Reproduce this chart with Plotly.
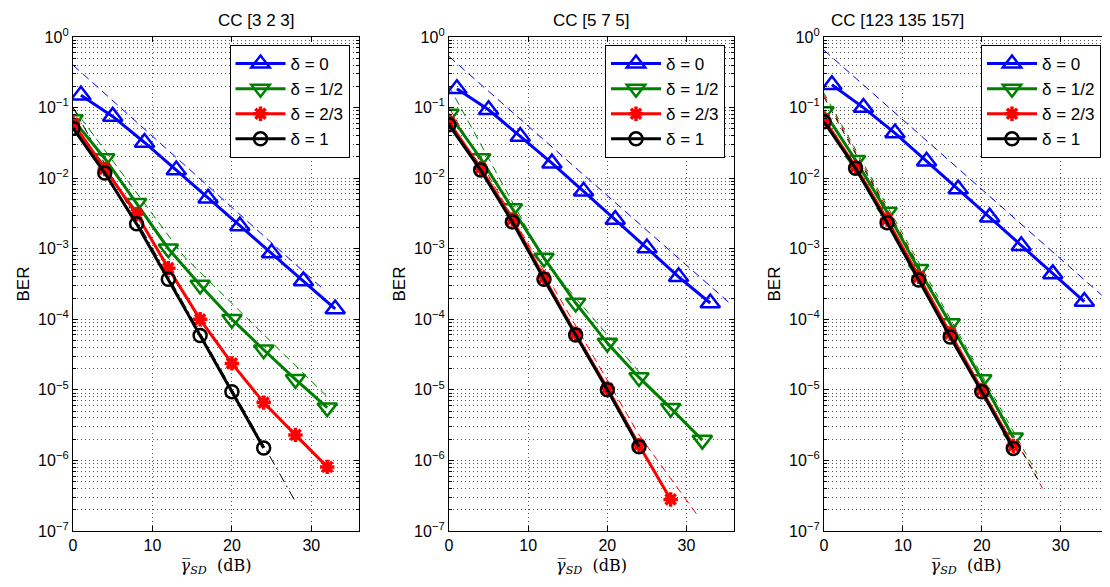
import plotly.graph_objects as go

# ---------------- data ----------------
titles = ["CC [3 2 3]", "CC [5 7 5]", "CC [123 135 157]"]
series_names = ["δ = 0", "δ = 1/2", "δ = 2/3", "δ = 1"]

x_d0 = [1, 5, 9, 13, 17, 21, 25, 29, 33]
x_to32 = [0, 4, 8, 12, 16, 20, 24, 28, 32]
x_to28 = [0, 4, 8, 12, 16, 20, 24, 28]
x_to24 = [0, 4, 8, 12, 16, 20, 24]

# Panel 1: CC [3 2 3]
p1_d0 = [0.15, 0.075, 0.032, 0.013, 0.0052, 0.0021, 8.7e-4, 3.5e-4, 1.4e-4]
p1_d12 = [0.068, 0.019, 0.0044, 1.0e-3, 3.07e-4, 1.0e-4, 3.7e-5, 1.41e-5, 5.6e-6]
p1_d23 = [0.06, 0.0135, 0.0031, 5.3e-4, 1.0e-4, 2.37e-5, 6.6e-6, 2.3e-6, 8.1e-7]
p1_d1 = [0.051, 0.0118, 2.25e-3, 3.7e-4, 5.9e-5, 9.4e-6, 1.5e-6]

# Panel 2: CC [5 7 5]
p2_d0 = [0.185, 0.093, 0.039, 0.0163, 0.0065, 0.0026, 1.02e-3, 4.0e-4, 1.7e-4]
p2_d12 = [0.081, 0.019, 0.0037, 7.4e-4, 1.7e-4, 4.6e-5, 1.5e-5, 5.5e-6, 1.94e-6]
p2_d23 = [0.062, 0.0138, 0.0026, 3.9e-4, 6.2e-5, 1.05e-5, 1.65e-6, 2.8e-7]
p2_d1 = [0.057, 0.013, 2.4e-3, 3.7e-4, 6.0e-5, 1.0e-5, 1.56e-6]

# Panel 3: CC [123 135 157]
p3_d0 = [0.21, 0.1, 0.0435, 0.0173, 0.007, 0.0028, 1.1e-3, 4.4e-4, 1.78e-4]
p3_d12 = [0.088, 0.018, 0.0033, 5.1e-4, 8.7e-5, 1.4e-5, 2.1e-6]
p3_d23 = [0.068, 0.0145, 0.0026, 4.0e-4, 6.3e-5, 1.0e-5, 1.6e-6]
p3_d1 = [0.063, 0.0138, 2.34e-3, 3.6e-4, 5.6e-5, 9.4e-6, 1.48e-6]

# Asymptotic bounds (dashed), read as sparse points
p1_b0_x, p1_b0_y = [0, 31.3], [0.4, 2.8e-4]
p1_b12_x, p1_b12_y = [0, 14, 32], [0.1, 7.7e-4, 8e-6]
p1_b1_x, p1_b1_y = [0, 28], [0.1, 2.6e-7]

p2_b0_x, p2_b0_y = [0, 35.3], [0.53, 1.75e-4]
p2_b12_x, p2_b12_y = [0, 12, 16, 24], [0.2, 7e-4, 2e-4, 1.8e-5]
p2_b23_x, p2_b23_y = [0, 24, 31.5], [0.1, 2.3e-6, 1.6e-7]

p3_b0_x, p3_b0_y = [0, 35.2], [0.65, 2.2e-4]
p3_b12_x, p3_b12_y = [0, 27], [0.16, 6.5e-7]
p3_b23_x, p3_b23_y = [0, 28], [0.15, 3.5e-7]
p3_b1_x, p3_b1_y = [0, 27.5], [0.14, 4.5e-7]

y_tickvals = [1, 1e-1, 1e-2, 1e-3, 1e-4, 1e-5, 1e-6, 1e-7]
y_ticktext = ["10<sup>0</sup>", "10<sup>−1</sup>", "10<sup>−2</sup>", "10<sup>−3</sup>",
              "10<sup>−4</sup>", "10<sup>−5</sup>", "10<sup>−6</sup>", "10<sup>−7</sup>"]
x_tickvals = [0, 10, 20, 30]

# ---------------- styling ----------------
BLUE, GREEN, RED, BLACK = "#0000ff", "#008000", "#ff0000", "#000000"
FONT = "Liberation Sans, Arial, Helvetica, sans-serif"

# page has an 8px body margin: figure drawn from (8, 8)
OFF = 8
W, H = 1102, 579
ML, MR, MT, MB = 73 - OFF, 2, 37 - OFF, 56
PW = W - ML - MR
PH = H - MT - MB
X0 = 73  # page x of first plot area left edge

def px(v):
    return (v - X0) / PW

domains = [[0.0, px(359)], [px(449), px(734)], [px(824), 1.0]]
legend_right = [px(349.5), px(725), px(1101)]
legend_top = 1 - (45 - 37) / PH

fig = go.Figure()

panels = [
    dict(solid=[(x_d0, p1_d0), (x_to32, p1_d12), (x_to32, p1_d23), (x_to24, p1_d1)],
         bounds=[(p1_b0_x, p1_b0_y, BLUE, "8px,5px"), (p1_b12_x, p1_b12_y, GREEN, "8px,5px"),
                 (p1_b1_x, p1_b1_y, BLACK, "10px,4px,2px,4px")]),
    dict(solid=[(x_d0, p2_d0), (x_to32, p2_d12), (x_to28, p2_d23), (x_to24, p2_d1)],
         bounds=[(p2_b0_x, p2_b0_y, BLUE, "8px,5px"), (p2_b12_x, p2_b12_y, GREEN, "8px,5px"),
                 (p2_b23_x, p2_b23_y, RED, "8px,5px")]),
    dict(solid=[(x_d0, p3_d0), (x_to24, p3_d12), (x_to24, p3_d23), (x_to24, p3_d1)],
         bounds=[(p3_b0_x, p3_b0_y, BLUE, "8px,5px"), (p3_b12_x, p3_b12_y, GREEN, "6px,6px"),
                 (p3_b23_x, p3_b23_y, RED, "6px,6px"), (p3_b1_x, p3_b1_y, BLACK, "6px,6px")]),
]

styles = [
    dict(color=BLUE, symbol="triangle-up-open", size=17, lw=2.5),
    dict(color=GREEN, symbol="triangle-down-open", size=17, lw=2.5),
    dict(color=RED, symbol="asterisk-open", size=12, lw=3.5),
    dict(color=BLACK, symbol="circle-open", size=13, lw=2.5),
]

for i, p in enumerate(panels):
    xa = "x" if i == 0 else f"x{i+1}"
    ya = "y" if i == 0 else f"y{i+1}"
    lg = "legend" if i == 0 else f"legend{i+1}"
    for bx, by, col, dash in p["bounds"]:
        fig.add_trace(go.Scatter(x=bx, y=by, mode="lines", xaxis=xa, yaxis=ya,
                                 line=dict(color=col, width=1, dash=dash),
                                 showlegend=False, hoverinfo="skip"))
    for (sx, sy), st, name in zip(p["solid"], styles, series_names):
        fig.add_trace(go.Scatter(
            x=sx, y=sy, mode="lines+markers", name=name, xaxis=xa, yaxis=ya, legend=lg,
            line=dict(color=st["color"], width=3),
            marker=dict(symbol=st["symbol"], size=st["size"], color=st["color"],
                        line=dict(color=st["color"], width=st["lw"])),
        ))

grid_common = dict(showgrid=True, gridcolor="#555555", griddash="1px,3px", gridwidth=1,
                   showline=True, linecolor="black", linewidth=1.3, mirror="ticks",
                   ticks="inside", ticklen=5, tickcolor="black", zeroline=False,
                   tickfont=dict(family=FONT, size=16, color="black"))

layout = dict(
    width=W, height=H, margin=dict(l=ML, r=MR, t=MT, b=MB),
    paper_bgcolor="white", plot_bgcolor="white",
    font=dict(family=FONT, size=16, color="black"),
    showlegend=True,
)

for i in range(3):
    sfx = "" if i == 0 else str(i + 1)
    layout[f"xaxis{sfx}"] = dict(
        domain=domains[i], range=[0, 36], tickvals=x_tickvals, anchor=f"y{sfx}",
        title=dict(text="<i>γ̅</i><sub><i>SD</i></sub>  (dB)", standoff=6,
                   font=dict(family="DejaVu Serif, Liberation Serif, serif", size=16)),
        **grid_common)
    layout[f"yaxis{sfx}"] = dict(
        type="log", range=[-7, 0], tickvals=y_tickvals, ticktext=y_ticktext,
        anchor=f"x{sfx}",
        title=dict(text="BER", standoff=4, font=dict(family=FONT, size=17)),
        minor=dict(showgrid=True, gridcolor="#555555", griddash="1px,3px", gridwidth=1,
                   ticks="inside", ticklen=3, tickcolor="black", dtick="D1"),
        **grid_common)
    layout[f"legend{sfx}"] = dict(
        x=legend_right[i], xanchor="right", y=legend_top, yanchor="top",
        bgcolor="white", bordercolor="black", borderwidth=1,
        font=dict(family=FONT, size=17, color="black"),
        itemwidth=50, tracegroupgap=0,
    )

fig.update_layout(**layout)

for i, t in enumerate(titles):
    d = domains[i]
    fig.add_annotation(text=t, xref="paper", yref="paper", x=(d[0] + d[1]) / 2,
                       y=1, yshift=5, yanchor="bottom", showarrow=False,
                       font=dict(family=FONT, size=17, color="black"))

fig.write_html("out.html")
